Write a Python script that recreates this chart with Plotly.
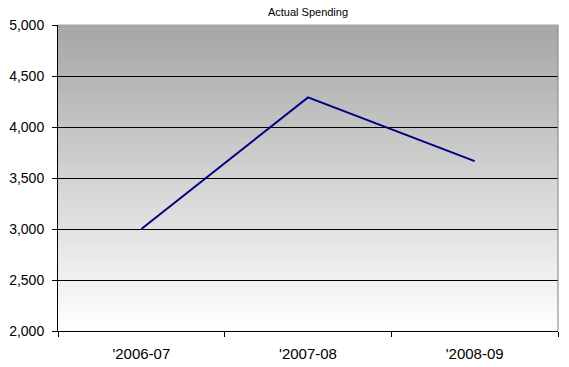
import plotly.graph_objects as go

categories = ["'2006-07", "'2007-08", "'2008-09"]
spending = [3000, 4290, 3665]
y_ticks = [2000, 2500, 3000, 3500, 4000, 4500, 5000]

fig = go.Figure()
fig.add_trace(go.Scatter(x=categories, y=spending, mode="lines",
                         line=dict(color="#000080", width=2), showlegend=False))

# vertical gradient background (gray at top to white at bottom)
n = 80
top = (166, 166, 166)
bot = (255, 255, 255)
shapes = []
for i in range(n):
    t = (i + 0.5) / n
    c = tuple(round(bot[k] + (top[k] - bot[k]) * t) for k in range(3))
    shapes.append(dict(type="rect", xref="paper", yref="paper",
                       x0=0, x1=1, y0=i / n, y1=(i + 1) / n + 0.002,
                       fillcolor="rgb(%d,%d,%d)" % c, line=dict(width=0), layer="below"))
shapes.append(dict(type="line", xref="paper", yref="paper", x0=1, x1=1, y0=0, y1=1,
                   line=dict(color="#808080", width=1)))
fig.update_layout(shapes=shapes)

fig.update_layout(
    width=569, height=367,
    margin=dict(l=58, r=11, t=25, b=36),
    paper_bgcolor="white", plot_bgcolor="rgba(0,0,0,0)",
    font=dict(family="Liberation Sans, Arial, sans-serif", color="black"),
    title=dict(text="Actual Spending", x=308 / 569, xanchor="center", y=1 - 12 / 367, yanchor="middle",
               font=dict(size=11, color="black"), automargin=False),
    xaxis=dict(type="category", range=[-0.5, 2.5], tickson="boundaries", ticks="outside", ticklen=5,
               tickcolor="black", showline=True, linecolor="black", linewidth=1, showgrid=False,
               tickfont=dict(size=15), ticklabelstandoff=9, automargin=False, fixedrange=True),
    yaxis=dict(range=[2000, 5000], tickvals=y_ticks, tickformat=",d", ticks="outside", ticklen=5,
               tickcolor="black", showline=True, linecolor="black", linewidth=1,
               showgrid=True, gridcolor="black", gridwidth=1, zeroline=False,
               tickfont=dict(size=14), ticklabelstandoff=5, automargin=False, fixedrange=True),
)
fig.write_html("out.html", config={"displayModeBar": False},
               post_script="document.body.style.margin='0';")
